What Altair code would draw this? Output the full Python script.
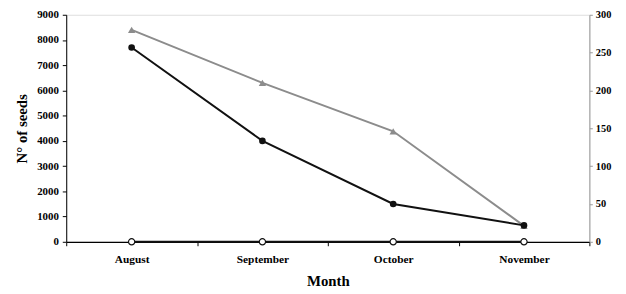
import altair as alt
import pandas as pd

months = ["August", "September", "October", "November"]
seeds_black = [7700, 4000, 1500, 650]
seeds_gray = [280, 210, 146, 21]
seeds_white = [0, 0, 0, 0]

df_left = pd.DataFrame({"month": months, "black": seeds_black, "white": seeds_white})
df_right = pd.DataFrame({"month": months, "gray": seeds_gray})

FONT = "Liberation Serif"

x = alt.X("month:N", sort=months, bandPosition=0.5,
          scale=alt.Scale(type="band", paddingInner=0, paddingOuter=0),
          axis=alt.Axis(title="Month", tickBand="extent", labelAngle=0,
                        domainColor="#000", tickColor="#000", tickSize=4,
                        labelPadding=8, labelFontSize=11.5, labelFontWeight="bold",
                        labelFont=FONT, titleFont=FONT, titleFontSize=15,
                        titleFontWeight="bold", titlePadding=9, labelColor="#000",
                        titleColor="#000", domainWidth=1.2))

yl_scale = alt.Scale(domain=[0, 9000], nice=False)
yl_axis = alt.Axis(title="N° of seeds", orient="left", values=list(range(0, 9001, 1000)),
                   format="d",
                   tickSize=4, labelPadding=4, labelFontSize=11, labelFontWeight="bold",
                   labelFont=FONT, titleFont=FONT, titleFontSize=15, titleFontWeight="bold",
                   titlePadding=7, domainColor="#000", tickColor="#000", grid=False,
                   labelColor="#000", titleColor="#000")

black_line = alt.Chart(df_left).mark_line(color="#111", strokeWidth=2).encode(
    x=x, y=alt.Y("black:Q", scale=yl_scale, axis=yl_axis))
black_pts = alt.Chart(df_left).mark_point(filled=True, color="#111", size=45, opacity=1).encode(
    x=x, y=alt.Y("black:Q", scale=yl_scale, axis=yl_axis))
white_line = alt.Chart(df_left).mark_line(color="#111", strokeWidth=2).encode(
    x=x, y=alt.Y("white:Q", scale=yl_scale, axis=yl_axis))
white_pts = alt.Chart(df_left).mark_point(filled=True, fill="white", stroke="#111",
                                          strokeWidth=1.2, size=40, opacity=1).encode(
    x=x, y=alt.Y("white:Q", scale=yl_scale, axis=yl_axis))

left = alt.layer(black_line, black_pts, white_line, white_pts)

yr_scale = alt.Scale(domain=[0, 300], nice=False)
yr_axis = alt.Axis(title=None, orient="right", values=list(range(0, 301, 50)),
                   format="d",
                   tickSize=3, labelPadding=3, labelFontSize=10.5, labelFontWeight="bold",
                   labelFont=FONT, domainColor="#999", tickColor="#999", grid=False,
                   labelColor="#000")

gray_line = alt.Chart(df_right).mark_line(color="#8c8c8c", strokeWidth=2).encode(
    x=x, y=alt.Y("gray:Q", scale=yr_scale, axis=yr_axis))
gray_pts = alt.Chart(df_right).mark_point(shape="triangle-up", filled=True, color="#8c8c8c",
                                          size=55, opacity=1).encode(
    x=x, y=alt.Y("gray:Q", scale=yr_scale, axis=yr_axis))

right = alt.layer(gray_line, gray_pts)

chart = alt.layer(right, left).resolve_scale(y="independent").properties(
    width=530, height=230,
    autosize=alt.AutoSizeParams(type="none"),
    padding={"left": 59, "top": 5, "right": 29, "bottom": 48},
).configure_view(stroke=None).configure(background="white")

chart.save("out.html", embed_options={"renderer": "svg", "actions": False})
